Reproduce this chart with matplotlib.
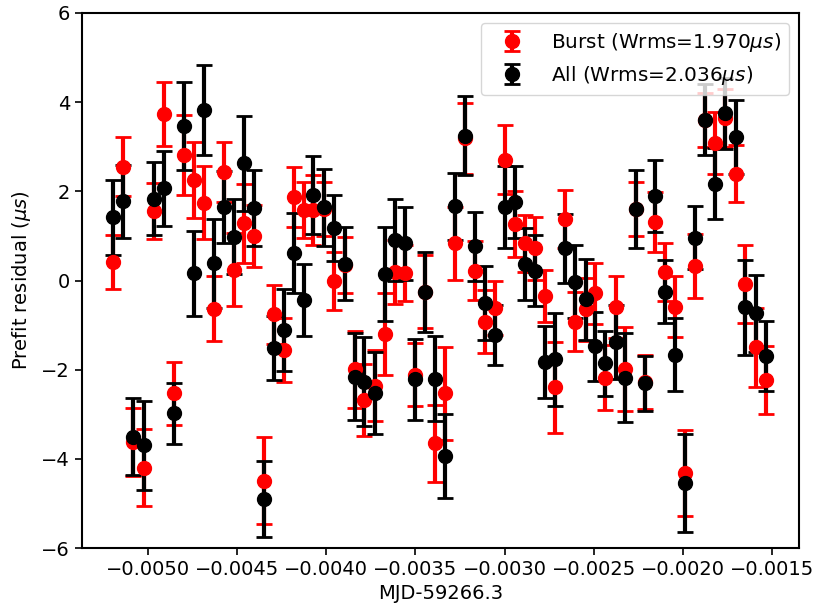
#!/usr/bin/env python3
"""
Prefit timing residuals: burst-only TOAs vs all TOAs.
"""

import numpy as np
import matplotlib
matplotlib.use('Agg')
import matplotlib.pyplot as plt
from matplotlib.ticker import MultipleLocator

# Epochs (MJD - 59266.3)
mjd = [
    -0.005196, -0.005140, -0.005084, -0.005022, -0.004966, -0.004910,
    -0.004854, -0.004798, -0.004742, -0.004686, -0.004630, -0.004574,
    -0.004518, -0.004462, -0.004405, -0.004349, -0.004293, -0.004237,
    -0.004181, -0.004125, -0.004075, -0.004013, -0.003957, -0.003895,
    -0.003839, -0.003788, -0.003727, -0.003671, -0.003615, -0.003558,
    -0.003502, -0.003446, -0.003390, -0.003334, -0.003278, -0.003222,
    -0.003166, -0.003110, -0.003054, -0.002998, -0.002942, -0.002885,
    -0.002829, -0.002773, -0.002717, -0.002661, -0.002605, -0.002543,
    -0.002493, -0.002437, -0.002375, -0.002325, -0.002263, -0.002212,
    -0.002156, -0.002100, -0.002044, -0.001988, -0.001932, -0.001876,
    -0.001820, -0.001764, -0.001702, -0.001651, -0.001590, -0.001534,
]

# Burst residuals (us) and uncertainties
burst_res = [
    0.42, 2.55, -3.63, -4.20, 1.56, 3.73, -2.53, 2.81, 2.25, 1.74, -0.63,
    2.44, 0.24, 1.28, 1.00, -4.49, -0.76, -1.56, 1.88, 1.58, 1.58, 1.60,
    -0.01, 0.35, -1.99, -2.68, -2.36, -1.20, 0.19, 0.16, -2.11, -0.25,
    -3.65, -2.53, 0.83, 3.19, 0.22, -0.92, -0.62, 2.71, 1.27, 0.83, 0.72,
    -0.34, -2.39, 1.37, -0.92, -0.65, -0.29, -2.18, -0.60, -1.99, 1.60,
    -2.28, 1.32, 0.20, -0.59, -4.32, 0.33, 3.60, 3.08, 3.64, 2.40, -0.08,
    -1.50, -2.23,
]
burst_err = [
    0.60, 0.66, 0.76, 0.86, 0.62, 0.72, 0.70, 0.90, 0.85, 0.82, 0.73,
    0.67, 0.82, 0.88, 0.70, 0.98, 0.66, 0.71, 0.67, 0.62, 0.78, 0.60,
    0.66, 0.62, 0.86, 0.80, 0.80, 0.93, 0.71, 0.63, 0.70, 0.82,
    0.86, 1.04, 0.82, 0.80, 0.66, 0.70, 0.60, 0.77, 0.74, 0.65, 0.70,
    0.58, 1.02, 0.65, 0.66, 0.70, 0.68, 0.73, 0.69, 0.94, 0.60,
    0.60, 0.67, 0.65, 0.68, 0.97, 0.72, 0.60, 0.70, 0.65, 0.64, 0.87,
    0.89, 0.76,
]

# All-TOA residuals (us) and uncertainties
all_res = [
    1.42, 1.78, -3.50, -3.70, 1.83, 2.07, -2.98, 3.46, 0.16, 3.82, 0.39,
    1.65, 0.98, 2.63, 1.62, -4.90, -1.51, -1.11, 0.61, -0.44, 1.92, 1.64,
    1.17, 0.38, -2.16, -2.27, -2.52, 0.15, 0.91, 0.83, -2.22, -0.25,
    -2.20, -3.93, 1.66, 3.25, 0.77, -0.51, -1.22, 1.65, 1.76, 0.37, 0.22,
    -1.83, -1.77, 0.72, -0.03, -0.42, -1.48, -1.86, -1.39, -2.18, 1.60,
    -2.31, 1.89, -0.25, -1.66, -4.55, 0.96, 3.61, 2.17, 3.75, 3.22, -0.60,
    -0.74, -1.69,
]
all_err = [
    0.84, 0.82, 0.87, 1.00, 0.82, 0.84, 0.69, 0.99, 0.96, 1.01, 1.00,
    0.80, 0.84, 1.06, 0.85, 0.85, 0.72, 0.92, 0.90, 0.80, 0.88, 0.86,
    0.74, 0.82, 0.98, 1.00, 0.92, 1.06, 0.92, 0.82, 0.90, 0.90,
    0.95, 0.94, 0.75, 0.88, 0.77, 0.83, 0.67, 0.91, 0.80, 0.80, 0.80,
    0.80, 1.05, 0.77, 0.82, 0.91, 0.77, 0.73, 0.83, 1.00, 0.88,
    0.61, 0.81, 0.71, 0.81, 1.10, 0.71, 0.80, 0.80, 0.80, 0.82, 1.07,
    0.86, 0.79,
]

burst_label = r'Burst (Wrms=1.970$\mu s$)'
all_label = r'All (Wrms=2.036$\mu s$)'


def main():
    plt.rcParams.update({'font.size': 14})

    fig = plt.figure(figsize=(8.17, 6.12), dpi=100)
    ax = fig.add_axes([82 / 817, 1 - 548 / 612, 717 / 817, 535 / 612])

    style = dict(fmt='o', markersize=10, elinewidth=3, capsize=5.5, capthick=2)
    ax.errorbar(mjd, burst_res, yerr=burst_err, color='red', label=burst_label, **style)
    ax.errorbar(mjd, all_res, yerr=all_err, color='black', label=all_label, **style)

    ax.set_xlim(-0.005370, -0.001349)
    ax.set_ylim(-6, 6)
    ax.xaxis.set_major_locator(MultipleLocator(0.0005))
    ax.yaxis.set_major_locator(MultipleLocator(2))
    ax.xaxis.set_major_formatter(plt.FuncFormatter(lambda v, p: f'{v:.4f}'.replace('-', '\u2212')))
    ax.tick_params(length=5, width=1.2)
    for sp in ax.spines.values():
        sp.set_linewidth(1.5)

    ax.set_xlabel('MJD-59266.3')
    ax.set_ylabel(r'Prefit residual ($\mu s$)', labelpad=6)
    ax.legend(loc='upper right', fontsize=14.4, handlelength=2.3)

    fig.savefig('out.png', dpi=100)
    plt.close(fig)


if __name__ == '__main__':
    main()
